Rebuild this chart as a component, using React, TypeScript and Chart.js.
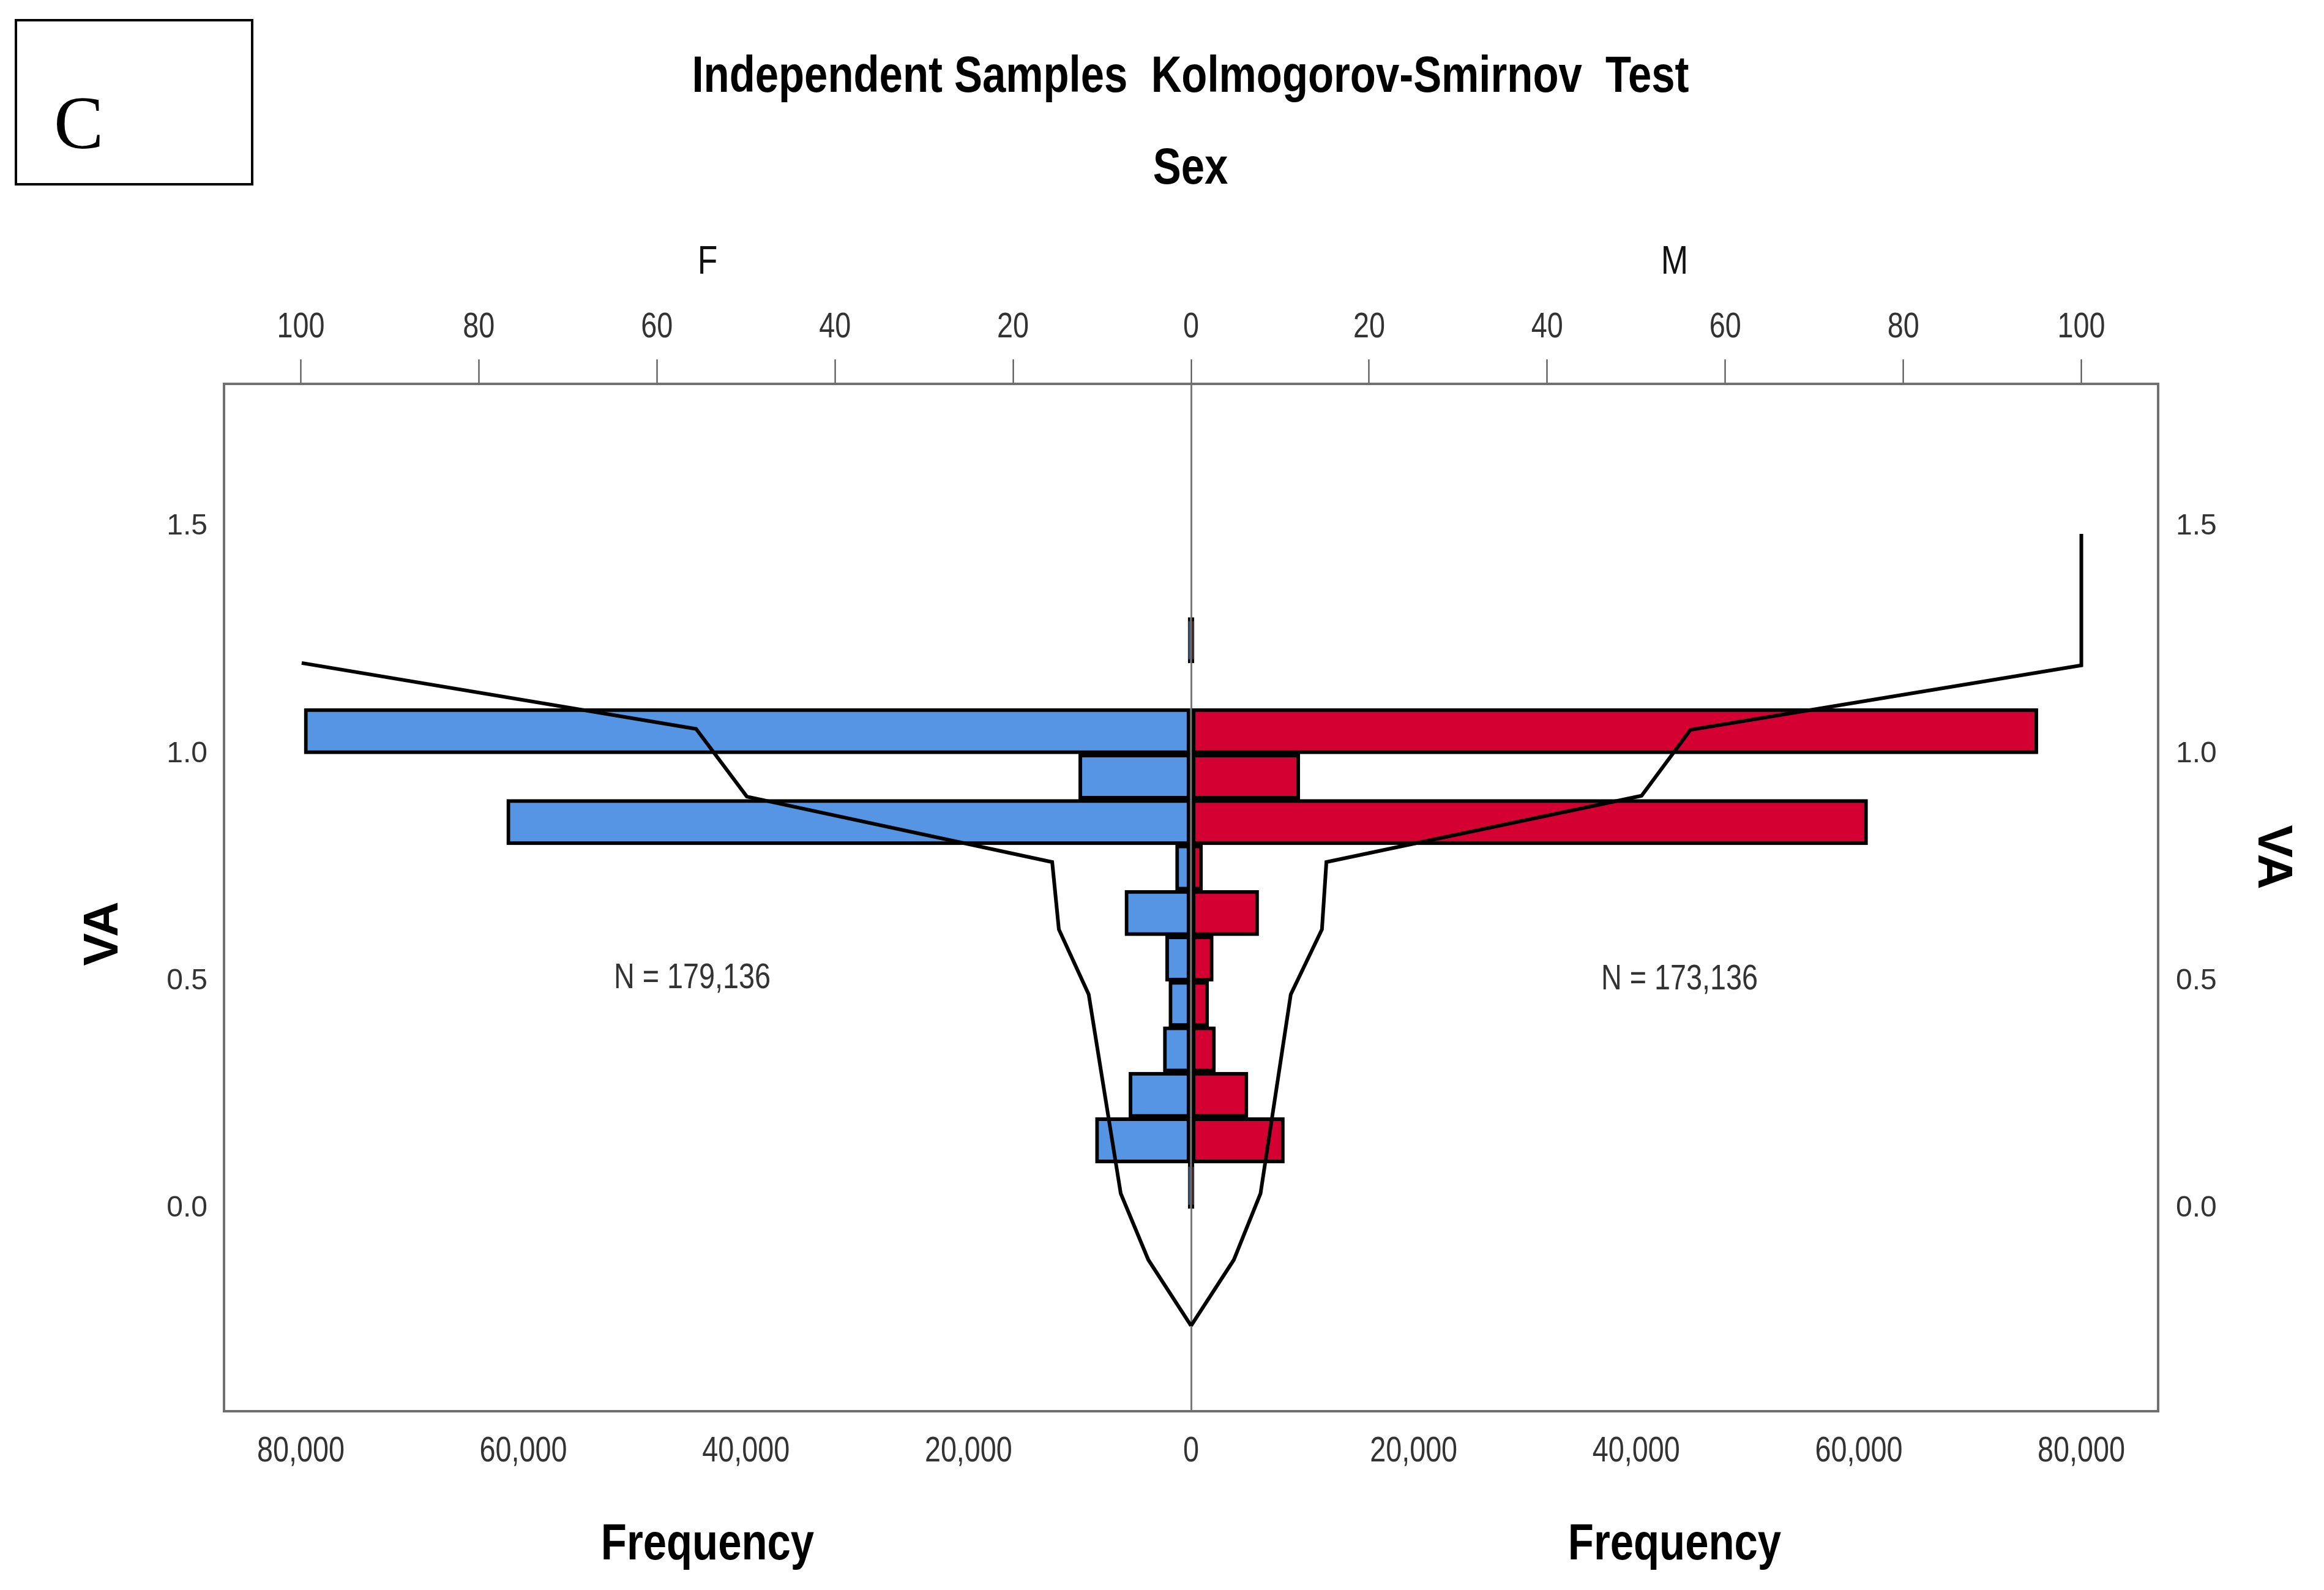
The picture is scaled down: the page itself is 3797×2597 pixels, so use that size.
import React, { useEffect, useRef } from 'react';
import { Chart, registerables } from 'chart.js';

Chart.register(...registerables);

const W = 3797;
const H = 2597;

// VA bin centres (bin width 0.1)
const vaBins = [1.25, 1.05, 0.95, 0.85, 0.75, 0.65, 0.55, 0.45, 0.35, 0.25, 0.15, 0.05];
// Frequencies per bin
const femaleFreq = [270, 79700, 10100, 61500, 1400, 5950, 2300, 2000, 2500, 5590, 8600, 270];
const maleFreq = [270, 76100, 9780, 60800, 1040, 6080, 2000, 1580, 2200, 5120, 8390, 270];

// Cumulative percentage curves (top axis, percent)
const femaleCumVA = [1.2, 1.055, 0.906, 0.762, 0.614, 0.471, 0.033, -0.113, -0.258];
const femaleCumPct = [99.9, 55.6, 49.9, 15.6, 14.85, 11.5, 7.9, 4.8, 0];
const maleCumVA = [1.484, 1.195, 1.053, 0.908, 0.762, 0.614, 0.471, 0.033, -0.113, -0.258];
const maleCumPct = [100, 100, 56.1, 50.6, 15.2, 14.7, 11.2, 7.8, 4.8, 0];

// Tick values
const freqTicks = [-80000, -60000, -40000, -20000, 0, 20000, 40000, 60000, 80000];
const pctTicks = [-100, -80, -60, -40, -20, 0, 20, 40, 60, 80, 100];
const vaTicks = [0, 0.5, 1.0, 1.5];

// Axis ranges
const freqMin = -86900;
const freqMax = 86900;
const pctMin = -108.625;
const pctMax = 108.625;
const vaMin = -0.446;
const vaMax = 1.814;

const TITLE = 'Independent Samples  Kolmogorov-Smirnov  Test';
const SUBTITLE = 'Sex';
const GROUP_F = 'F';
const GROUP_M = 'M';
const N_F = 'N = 179,136';
const N_M = 'N = 173,136';
const X_TITLE = 'Frequency';
const Y_TITLE = 'VA';

const SANS = '"Liberation Sans", Arial, sans-serif';
const NARROW_SCALE = 0.82;
const BLUE = '#5695E3';
const RED = '#D50032';
const AXIS_GRAY = '#707070';

const absFmt = (v: any) => Math.abs(Number(v)).toLocaleString('en-US');

function narrowText(
  c: CanvasRenderingContext2D,
  text: string,
  x: number,
  y: number,
  font: string,
  color: string,
  baseline: CanvasTextBaseline = 'alphabetic',
) {
  c.save();
  c.font = font;
  c.fillStyle = color;
  c.textAlign = 'center';
  c.textBaseline = baseline;
  c.translate(x, y);
  c.scale(NARROW_SCALE, 1);
  c.fillText(text, 0, 0);
  c.restore();
}

const decor = {
  id: 'decor',
  afterDraw(chart: any) {
    const c = chart.ctx as CanvasRenderingContext2D;
    const a = chart.chartArea;
    const xs = chart.scales.x;
    const x2s = chart.scales.x2;
    const cx = xs.getPixelForValue(0);
    const midL = (a.left + cx) / 2;
    const midR = (cx + a.right) / 2;
    c.save();

    // panel letter box
    c.strokeStyle = '#000';
    c.lineWidth = 4;
    c.strokeRect(26, 33, 386, 268);
    c.fillStyle = '#000';
    c.font = '122px "Liberation Serif", "DejaVu Serif", serif';
    c.textAlign = 'left';
    c.textBaseline = 'alphabetic';
    c.fillText('C', 88, 242);

    // titles
    narrowText(c, TITLE, 1945, 150, `bold 84px ${SANS}`, '#000');
    narrowText(c, SUBTITLE, 1945, 300, `bold 84px ${SANS}`, '#000');

    // group labels
    narrowText(c, GROUP_F, midL, 447, `65px ${SANS}`, '#111');
    narrowText(c, GROUP_M, midR, 447, `65px ${SANS}`, '#111');

    // tick labels of the frequency (bottom) and percent (top) axes
    xs.ticks.forEach((t: any) => {
      narrowText(c, absFmt(t.value), xs.getPixelForValue(t.value), 2371, `57px ${SANS}`, '#333', 'middle');
    });
    x2s.ticks.forEach((t: any) => {
      narrowText(c, absFmt(t.value), x2s.getPixelForValue(t.value), 535, `57px ${SANS}`, '#333', 'middle');
    });

    // x titles
    narrowText(c, X_TITLE, midL, 2547, `bold 84px ${SANS}`, '#000');
    narrowText(c, X_TITLE, midR, 2547, `bold 84px ${SANS}`, '#000');

    // N labels
    narrowText(c, N_F, 1131, 1598, `57px ${SANS}`, '#333', 'middle');
    narrowText(c, N_M, 2744, 1600, `57px ${SANS}`, '#333', 'middle');

    // y titles
    c.fillStyle = '#000';
    c.font = `bold 80px ${SANS}`;
    c.textAlign = 'center';
    c.textBaseline = 'middle';
    c.save();
    c.translate(170, 1525);
    c.rotate(-Math.PI / 2);
    c.fillText(Y_TITLE, 0, 0);
    c.restore();
    c.save();
    c.translate(3712, 1400);
    c.rotate(Math.PI / 2);
    c.fillText(Y_TITLE, 0, 0);
    c.restore();

    c.restore();
  },
};

export default function App() {
  const ref = useRef<HTMLCanvasElement>(null);

  useEffect(() => {
    const canvas = ref.current;
    if (!canvas) return;

    const lineDs = (label: string, vas: number[], pcts: number[], sign: number) => ({
      type: 'line',
      label,
      data: vas.map((v, i) => ({ y: v, x: sign * pcts[i] })),
      xAxisID: 'x2',
      yAxisID: 'y',
      borderColor: '#000',
      borderWidth: 6,
      pointRadius: 0,
      fill: false,
      tension: 0,
      order: 0,
    });
    const barDs = (label: string, freqs: number[], sign: number, color: string) => ({
      type: 'bar',
      label,
      data: vaBins.map((v, i) => ({ y: v, x: sign * freqs[i] })),
      xAxisID: 'x',
      yAxisID: 'y',
      backgroundColor: color,
      borderColor: '#000',
      borderWidth: 6,
      borderSkipped: false,
      grouped: false,
      categoryPercentage: 1,
      barPercentage: 1,
      order: 1,
    });

    const chart = new Chart(canvas, {
      type: 'bar',
      data: {
        datasets: [
          lineDs('F cumulative', femaleCumVA, femaleCumPct, -1),
          lineDs('M cumulative', maleCumVA, maleCumPct, 1),
          barDs('F', femaleFreq, -1, BLUE),
          barDs('M', maleFreq, 1, RED),
        ] as any,
      },
      options: {
        indexAxis: 'y',
        responsive: false,
        maintainAspectRatio: false,
        animation: false,
        devicePixelRatio: 1,
        layout: { padding: 0 },
        plugins: {
          legend: { display: false },
          tooltip: { enabled: false },
          title: { display: false },
        },
        scales: {
          x: {
            type: 'linear',
            position: 'bottom',
            min: freqMin,
            max: freqMax,
            afterBuildTicks: (s: any) => {
              s.ticks = freqTicks.map((v) => ({ value: v }));
            },
            afterFit: (s: any) => {
              s.height = 292;
            },
            ticks: { display: false, autoSkip: false },
            grid: {
              drawOnChartArea: true,
              drawTicks: false,
              lineWidth: 3,
              color: (ctx: any) => (ctx.tick && ctx.tick.value === 0 ? '#7a7a7a' : 'rgba(0,0,0,0)'),
            },
            border: { display: true, color: AXIS_GRAY, width: 4 },
          },
          x2: {
            type: 'linear',
            position: 'top',
            min: pctMin,
            max: pctMax,
            afterBuildTicks: (s: any) => {
              s.ticks = pctTicks.map((v) => ({ value: v }));
            },
            afterFit: (s: any) => {
              s.height = 627;
            },
            ticks: { display: false, autoSkip: false },
            grid: {
              drawOnChartArea: false,
              drawTicks: true,
              tickLength: 40,
              tickWidth: 2,
              tickColor: '#444',
            },
            border: { display: true, color: AXIS_GRAY, width: 4 },
          },
          y: {
            type: 'linear',
            position: 'left',
            min: vaMin,
            max: vaMax,
            offset: false,
            afterBuildTicks: (s: any) => {
              s.ticks = vaTicks.map((v) => ({ value: v }));
            },
            afterFit: (s: any) => {
              s.width = 366;
            },
            ticks: {
              autoSkip: false,
              padding: 27,
              color: '#333',
              font: { family: SANS, size: 48 },
              callback: (v: any) => Number(v).toFixed(1),
            },
            grid: { display: false, drawTicks: false, offset: false },
            border: { display: true, color: AXIS_GRAY, width: 4 },
          },
          y2: {
            type: 'linear',
            position: 'right',
            min: vaMin,
            max: vaMax,
            offset: false,
            afterBuildTicks: (s: any) => {
              s.ticks = vaTicks.map((v) => ({ value: v }));
            },
            afterFit: (s: any) => {
              s.width = 271;
            },
            ticks: {
              autoSkip: false,
              padding: 29,
              color: '#333',
              font: { family: SANS, size: 48 },
              callback: (v: any) => Number(v).toFixed(1),
            },
            grid: { display: false, drawTicks: false, offset: false },
            border: { display: true, color: AXIS_GRAY, width: 4 },
          },
        },
      } as any,
      plugins: [decor],
    });

    return () => {
      chart.destroy();
    };
  }, []);

  return (
    <div style={{ position: 'absolute', left: 0, top: 0, width: W, height: H, background: '#fff' }}>
      <canvas ref={ref} width={W} height={H} style={{ display: 'block', width: W, height: H }} />
    </div>
  );
}
